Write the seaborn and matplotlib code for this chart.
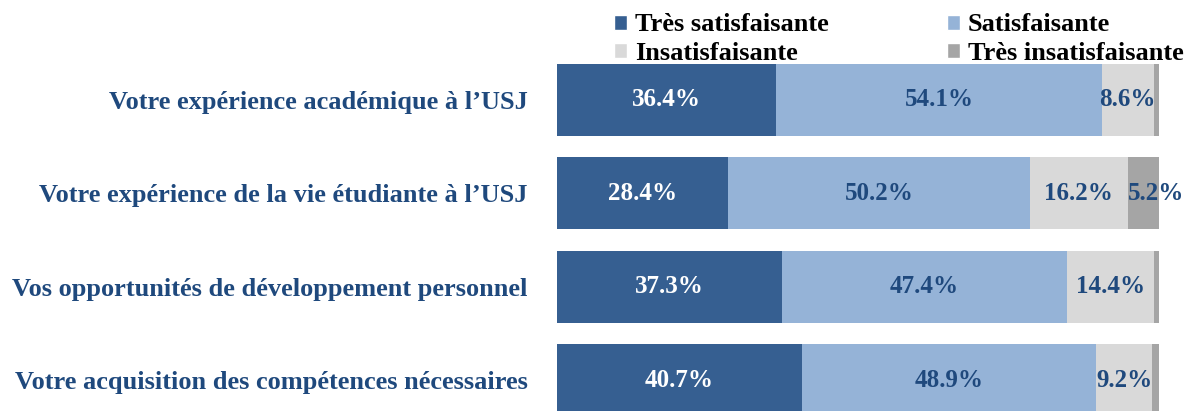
import matplotlib
matplotlib.use('Agg')
import matplotlib.pyplot as plt
import numpy as np
import pandas as pd
import seaborn as sns
from matplotlib.patches import Patch

## Données ----

categories = ["Votre expérience académique à l’USJ",
              "Votre expérience de la vie étudiante à l’USJ",
              "Vos opportunités de développement personnel",
              "Votre acquisition des compétences nécessaires"]
series = ["Très satisfaisante", "Satisfaisante", "Insatisfaisante", "Très insatisfaisante"]
tres_satisf = [36.4, 28.4, 37.3, 40.7]
satisf = [54.1, 50.2, 47.4, 48.9]
insatisf = [8.6, 16.2, 14.4, 9.2]
tres_insatisf = [0.9, 5.2, 0.9, 1.2]
# étiquettes affichées : une liste par série
etiquettes = [[True, True, True, True],
              [True, True, True, True],
              [True, True, True, True],
              [False, True, False, False]]

couleurs = ["#365F91", "#95B3D7", "#D9D9D9", "#A5A5A5"]
couleurs_txt = ["white", "#1F497D", "#1F497D", "#1F497D"]

datos = pd.DataFrame({"cat": categories,
                      series[0]: tres_satisf,
                      series[1]: satisf,
                      series[2]: insatisf,
                      series[3]: tres_insatisf})

## Figure ----

sns.set_style('white')
plt.rcParams['font.family'] = ['Liberation Serif', 'DejaVu Serif']
plt.rcParams['font.weight'] = 'bold'

fig = plt.figure(figsize=(11.98, 4.11), dpi=100)
ax = fig.add_axes([557/1198, -16/411, 602/1198, 374/411])

cumul = datos[series].cumsum(axis=1)

# barres empilées : on dessine les cumuls du plus grand au plus petit
for k in range(len(series) - 1, -1, -1):
    sns.barplot(x=cumul[series[k]], y=datos["cat"], color=couleurs[k],
                orient='h', width=0.77, saturation=1, linewidth=0, ax=ax)

# étiquettes (la dernière série, trop étroite, est calée à gauche du segment)
for k, s in enumerate(series):
    for i in range(len(categories)):
        if not etiquettes[k][i]:
            continue
        v = datos[s][i]
        if k == len(series) - 1:
            xpos, ha = cumul[s][i] - v, 'left'
        else:
            xpos, ha = cumul[s][i] - v / 2, 'center'
        ax.text(xpos, i, "%.1f%%" % v, ha=ha, va='center',
                color=couleurs_txt[k], fontsize=18, fontweight='bold', clip_on=False)

ax.set_xlim(0, 100)
ax.set_ylim(3.5, -0.5)
ax.set_xlabel("")
ax.set_ylabel("")
ax.set_xticks([])
ax.tick_params(axis='y', length=0, pad=21)
for lab in ax.get_yticklabels():
    lab.set_color("#1F497D")
    lab.set_fontsize(19)
    lab.set_fontweight('bold')
sns.despine(ax=ax, left=True, bottom=True)

# légende remplie par ligne
ordre = [0, 2, 1, 3]
handles = [Patch(facecolor=couleurs[k], label=series[k]) for k in ordre]
leg = fig.legend(handles=handles, ncol=2, loc='upper left', bbox_to_anchor=(590/1198, 1.025),
                 frameon=False, handlelength=0.5, handleheight=0.5,
                 handletextpad=0.3, columnspacing=4.48, labelspacing=0.2,
                 prop={'family': 'Liberation Serif', 'weight': 'bold', 'size': 19})
for t in leg.get_texts():
    t.set_color('black')

fig.savefig('out.png', dpi=100)
